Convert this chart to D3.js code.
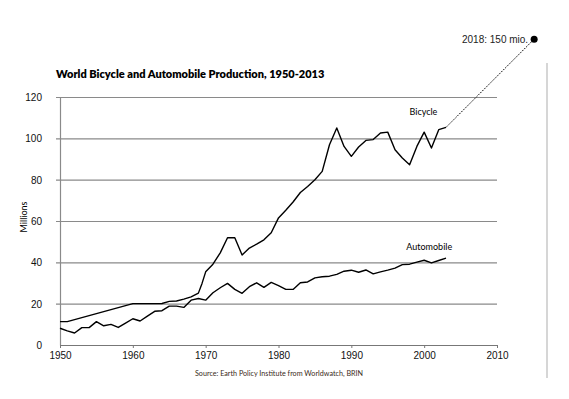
<!DOCTYPE html>
<html>
<head>
<meta charset="utf-8">
<script src="https://cdn.jsdelivr.net/npm/d3@7"></script>
<style>
  body { margin: 0; background: #fff; }
  svg { display: block; }
  .tick text { font-family: 'Liberation Sans', Arial, sans-serif; font-size: 10px; fill: #111; }
</style>
</head>
<body>
<div id="chart"></div>
<script>
// Values (millions of units)
const bicycleYears = [1950, 1951, 1960, 1964, 1965, 1966, 1967, 1968, 1969, 1969.5, 1970, 1971, 1972, 1973, 1974, 1975, 1976, 1977, 1978, 1979, 1980, 1981, 1982, 1983, 1984, 1985, 1986, 1987, 1988, 1989, 1990, 1991, 1992, 1993, 1994, 1995, 1996, 1997, 1998, 1999, 2000, 2001, 2002, 2003];
const bicycleValues = [11.3, 11.3, 20.0, 20.1, 21.1, 21.3, 22.2, 23.3, 25.1, 29.8, 35.4, 39.1, 44.6, 51.9, 51.9, 43.5, 46.9, 48.8, 50.9, 54.3, 61.5, 65.2, 69.2, 73.8, 76.7, 80.0, 84.0, 96.9, 105.0, 96.1, 91.3, 95.8, 99.0, 99.4, 102.6, 103.0, 94.5, 90.5, 87.2, 96.1, 103.0, 95.3, 104.2, 105.3];

const autoYears = d3.range(1950, 2004);
const autoValues = [8.1, 6.8, 5.8, 8.4, 8.4, 11.3, 9.3, 10.0, 8.5, 10.6, 12.7, 11.6, 14.0, 16.3, 16.6, 18.8, 18.8, 18.2, 21.7, 22.5, 21.7, 25.3, 27.7, 29.8, 26.9, 25.0, 28.2, 30.1, 27.9, 30.3, 28.7, 26.9, 26.9, 30.1, 30.5, 32.5, 33.0, 33.3, 34.2, 35.7, 36.2, 35.2, 36.3, 34.4, 35.4, 36.2, 37.2, 38.9, 39.1, 40.1, 41.0, 39.7, 40.9, 42.0];

// projection annotation: dotted line from last bicycle value to the 2018 marker
const projectionYears = [2003, 2015.1];
const projectionValues = [105.3, 148];
const projectionLabel = '2018: 150 mio.';

const yTicks = [0, 20, 40, 60, 80, 100, 120];
const xTicks = [1950, 1960, 1970, 1980, 1990, 2000, 2010];

const title = 'World Bicycle and Automobile Production, 1950-2013';
const source = 'Source: Earth Policy Institute from Worldwatch, BRIN';

const width = 569;
const height = 399;
const margin = { top: 97, right: 72, bottom: 54, left: 60 };

const svg = d3.select('#chart')
  .append('svg')
  .attr('width', width)
  .attr('height', height);

const xScale = d3.scaleLinear()
  .domain([1950, 2010])
  .range([margin.left, width - margin.right]);
const yScale = d3.scaleLinear()
  .domain([0, 120])
  .range([height - margin.bottom, margin.top]);

// Gridlines
const grid = svg.append('g')
  .attr('transform', `translate(${margin.left}, 0)`)
  .call(d3.axisLeft(yScale).tickValues(yTicks.slice(1)).tickFormat('')
    .tickSize(-(xScale.range()[1] - margin.left)).tickSizeOuter(0));
grid.select('.domain').remove();
grid.selectAll('line').attr('stroke', '#8a8a8a').attr('stroke-width', 1.2)
  .attr('x2', xScale.range()[1] - margin.left + 4)
  .attr('transform', 'translate(-4,0)');

// Y axis
const yAxis = svg.append('g')
  .attr('transform', `translate(${margin.left}, 0)`)
  .call(d3.axisLeft(yScale).tickValues(yTicks).tickSize(0).tickPadding(18));
yAxis.select('.domain').attr('stroke', '#8a8a8a').attr('stroke-width', 1.2);
yAxis.selectAll('.tick text').attr('dy', '0.35em');

// X axis
const xAxis = svg.append('g')
  .attr('transform', `translate(0, ${yScale(0)})`)
  .call(d3.axisBottom(xScale).tickValues(xTicks).tickFormat(d3.format('d')).tickSize(3).tickSizeOuter(0).tickPadding(4));
xAxis.select('.domain').attr('stroke', '#777').attr('stroke-width', 1.2);
xAxis.selectAll('.tick line').attr('stroke', '#777');

// Lines
const line = d3.line()
  .x((d) => xScale(d[0]))
  .y((d) => yScale(d[1]));

svg.append('path')
  .datum(d3.zip(bicycleYears, bicycleValues))
  .attr('fill', 'none')
  .attr('stroke', '#000')
  .attr('stroke-width', 1.4)
  .attr('stroke-linejoin', 'round')
  .attr('d', line);

svg.append('path')
  .datum(d3.zip(autoYears, autoValues))
  .attr('fill', 'none')
  .attr('stroke', '#000')
  .attr('stroke-width', 1.4)
  .attr('stroke-linejoin', 'round')
  .attr('d', line);

svg.append('path')
  .datum(d3.zip(projectionYears, projectionValues))
  .attr('fill', 'none')
  .attr('stroke', '#000')
  .attr('stroke-width', 1)
  .attr('stroke-dasharray', '1.5,1.2')
  .attr('d', line);

svg.append('circle')
  .attr('cx', xScale(projectionYears[1]))
  .attr('cy', yScale(projectionValues[1]))
  .attr('r', 3.5)
  .attr('fill', '#000');

svg.append('text')
  .attr('x', xScale(projectionYears[1]) - 6)
  .attr('y', yScale(projectionValues[1]) + 3.5)
  .attr('text-anchor', 'end')
  .style('font-family', "'Liberation Sans', Arial, sans-serif")
  .style('font-size', '10px')
  .attr('fill', '#222')
  .text(projectionLabel);

// Right frame line
svg.append('line')
  .attr('x1', 547).attr('x2', 547)
  .attr('y1', 63).attr('y2', 378)
  .attr('stroke', '#d6d6d6')
  .attr('stroke-width', 2);

// Series labels
svg.append('text')
  .attr('x', xScale(1999.9)).attr('y', yScale(111.2))
  .attr('text-anchor', 'middle')
  .style('font-family', 'Lato, sans-serif').style('font-size', '9px')
  .text('Bicycle');
svg.append('text')
  .attr('x', xScale(2000.7)).attr('y', yScale(46.2))
  .attr('text-anchor', 'middle')
  .style('font-family', 'Lato, sans-serif').style('font-size', '9px')
  .text('Automobile');

// Title
svg.append('text')
  .attr('x', 56).attr('y', 78)
  .style('font-family', 'Lato, sans-serif').style('font-size', '11px').style('font-weight', 800)
  .text(title);

// Y label
svg.append('text')
  .attr('transform', 'translate(27, 217) rotate(-90)')
  .attr('text-anchor', 'middle')
  .style('font-family', 'Lato, sans-serif').style('font-size', '9px')
  .text('Millions');

// Source
svg.append('text')
  .attr('x', 279).attr('y', 376)
  .attr('text-anchor', 'middle')
  .style('font-family', 'Lato, sans-serif').style('font-size', '7.2px')
  .attr('fill', '#3a2a20')
  .text(source);
</script>
</body>
</html>
